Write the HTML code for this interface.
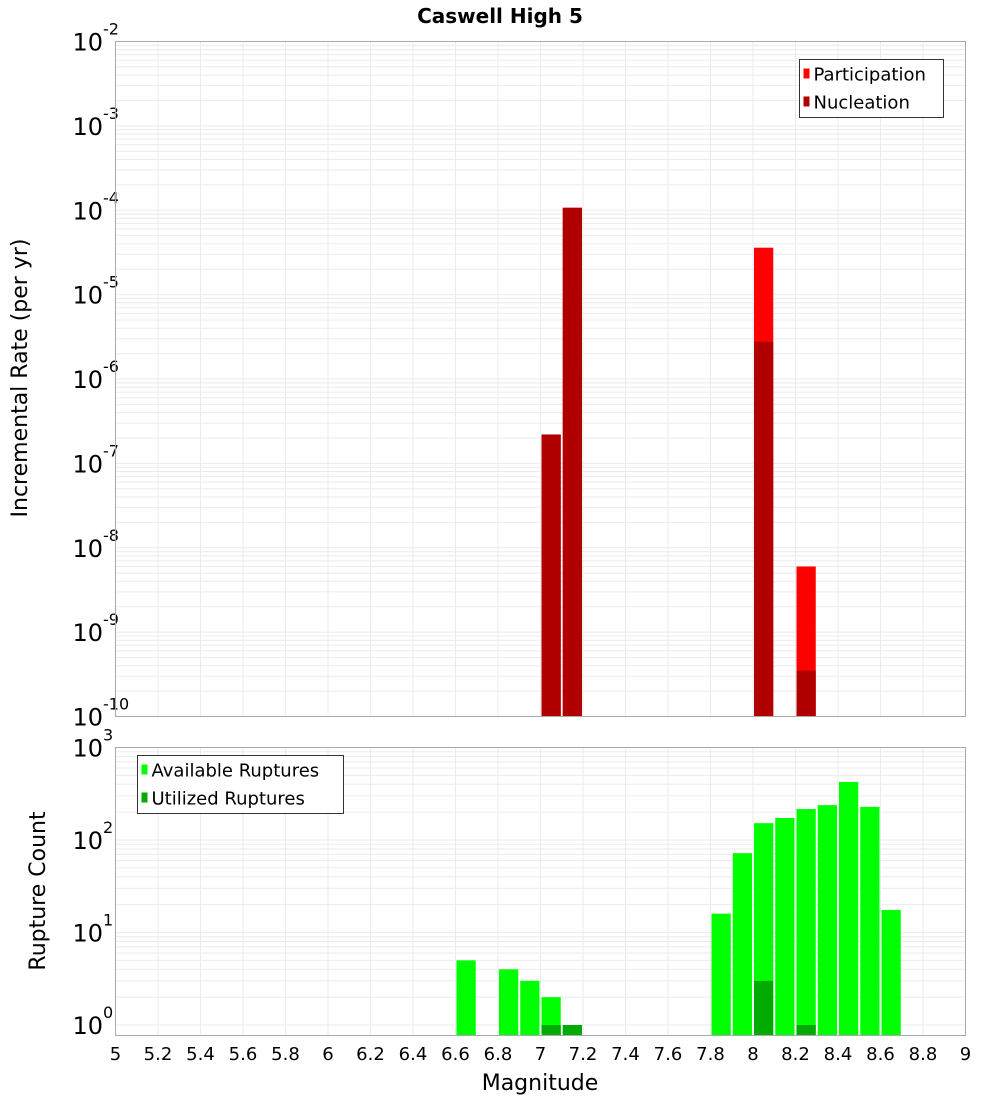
<!DOCTYPE html>
<html><head><meta charset="utf-8"><style>
body{margin:0;background:#fff}
svg{display:block;font-family:"DejaVu Sans","Liberation Sans",sans-serif}
</style></head><body>
<svg id="c" width="1000" height="1100" xmlns="http://www.w3.org/2000/svg">
<text x="500" y="23" text-anchor="middle" font-size="20" font-weight="bold">Caswell High 5</text>
<text transform="translate(27,378) rotate(-90)" text-anchor="middle" font-size="22">Incremental Rate (per yr)</text>
<text transform="translate(45,891) rotate(-90)" text-anchor="middle" font-size="22">Rupture Count</text>
<text x="540" y="1090" text-anchor="middle" font-size="22">Magnitude</text>
<g id="g"></g>
</svg>
<script>
const magBins=[6.65,6.75,6.85,6.95,7.05,7.15,7.85,7.95,8.05,8.15,8.25,8.35,8.45,8.55,8.65];
const rateMags=[7.05,7.15,8.05,8.25];
const participation=[2.2e-7,1.07e-4,3.6e-5,6e-9];
const nucleation=[2.2e-7,1.07e-4,2.76e-6,3.5e-10];
const available=[5,0,4,3,2,1,16,72,152,173,216,238,424,228,17.5];
const utilized=[0,0,0,0,1,1,0,0,3,0,1,0,0,0,0];
const xTicks=[5,5.2,5.4,5.6,5.8,6,6.2,6.4,6.6,6.8,7,7.2,7.4,7.6,7.8,8,8.2,8.4,8.6,8.8,9];

const NS="http://www.w3.org/2000/svg";
const g=document.getElementById('g');
function el(t,a,p){const e=document.createElementNS(NS,t);for(const k in a)e.setAttribute(k,a[k]);(p||g).appendChild(e);return e;}
const X0=115.5,X1=965.5;
const x=m=>X0+(m-5)/4*(X1-X0);
const T0=41.5,T1=716.5;
const yTop=v=>T0+(-2-Math.log10(v))/8*(T1-T0);
const B0=747.5,B1=1035.5,BD=92.5;
const yBot=v=>1025-Math.log10(v)*BD;

function panel(top,bot,yf,lo,hi,name){
  const bg=el('rect',{x:X0,y:top,width:X1-X0,height:bot-top,fill:'#fff'});
  
  
  for(let d=lo;d<hi;d++)for(let k=1;k<10;k++){
    const yy=yf(k*Math.pow(10,d));
    if(yy<top||yy>bot)continue;
    const l=el('line',{x1:X0,x2:X1,y1:yy,y2:yy,stroke:'#ebebeb','stroke-width':1});
    
    
  }
  xTicks.forEach(t=>{
    const l=el('line',{x1:x(t),x2:x(t),y1:top,y2:bot,stroke:'#ebebeb','stroke-width':1});
    
    
  });
  for(let d=lo;d<=hi;d++){
    const yy=yf(Math.pow(10,d));
    const t=el('text',{x:103,y:yy+9,'text-anchor':'end','font-size':24});
    
    
    t.textContent='10';
    const s=el('text',{x:103,y:yy-7,'font-size':16});
    
    
    s.textContent=String(d);
  }
}
panel(T0,T1,yTop,-10,-2,'top');
panel(B0,B1,yBot,0,3,'bottom');

const bw=(x(5.1)-x(5))-2;
rateMags.forEach((m,i)=>{
  const r=el('rect',{x:x(m)-bw/2,y:yTop(participation[i]),width:bw,height:T1-yTop(participation[i]),fill:'#ff0000'});
  
  
  const n=el('rect',{x:x(m)-bw/2,y:yTop(nucleation[i]),width:bw,height:T1-yTop(nucleation[i]),fill:'#b00000'});
  
  
});
magBins.forEach((m,i)=>{
  if(available[i]>0){
    const r=el('rect',{x:x(m)-bw/2,y:yBot(available[i]),width:bw,height:B1-yBot(available[i]),fill:'#00ff00'});
    
    
  }
  if(utilized[i]>0){
    const u=el('rect',{x:x(m)-bw/2,y:yBot(utilized[i]),width:bw,height:B1-yBot(utilized[i]),fill:'#00aa00'});
    
    
  }
});
[[T0,T1],[B0,B1]].forEach(([a,b])=>{
  const f=el('rect',{x:X0,y:a,width:X1-X0,height:b-a,fill:'none',stroke:'#aaa','stroke-width':1});
  
  
});
xTicks.forEach(t=>{
  const lb=el('text',{x:x(t),y:1060,'text-anchor':'middle','font-size':18});
  
  
  lb.textContent=String(t);
});
function legend(bx,by,w,items,name){
  const b=el('rect',{x:bx,y:by,width:w,height:58,fill:'#fff',stroke:'#333','stroke-width':1});
  
  
  items.forEach(([lab,col],i)=>{
    const s=el('rect',{x:bx+4,y:by+9+i*28,width:6,height:10,fill:col});
    
    
    const t=el('text',{x:bx+14,y:by+21+i*28,'font-size':18});
    
    
    t.textContent=lab;
  });
}
legend(799.5,59.5,144,[['Participation','#ff0000'],['Nucleation','#b00000']],'top-legend');
legend(137.5,755.5,206,[['Available Ruptures','#00ff00'],['Utilized Ruptures','#00aa00']],'bottom-legend');
</script>
</body></html>
